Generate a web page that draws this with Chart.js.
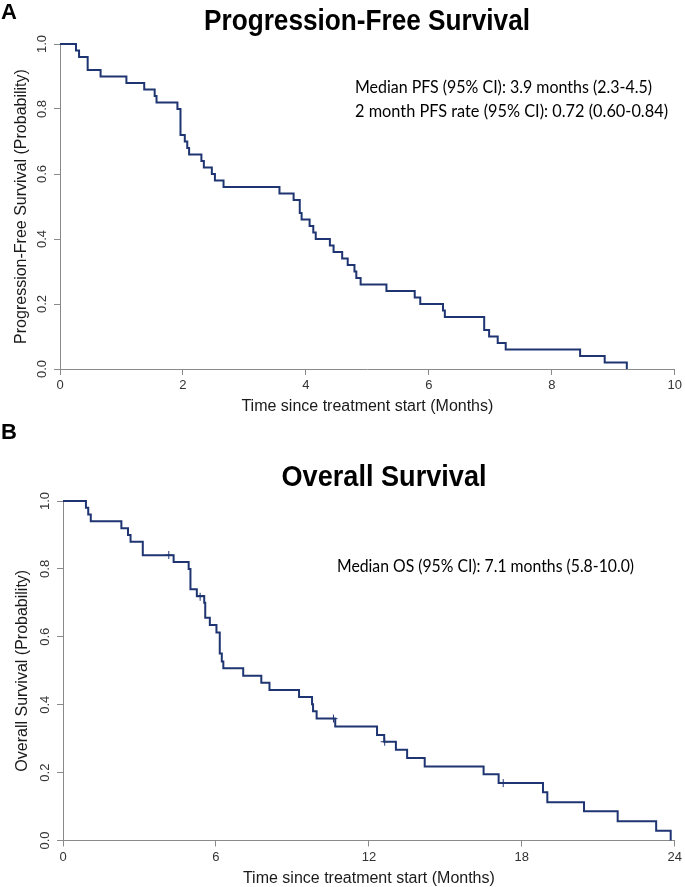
<!DOCTYPE html>
<html lang="en">
<head>
<meta charset="UTF-8">
<title>Progression-Free and Overall Survival</title>
<script src="https://cdn.jsdelivr.net/npm/chart.js"></script>
<style>
  html, body { margin: 0; padding: 0; background: #fff; }
  canvas { position: absolute; left: 0; }
  #pfsChart { top: 0; }
  #osChart { top: 415px; }
</style>
</head>
<body>
<canvas id="pfsChart" width="685" height="430"></canvas>
<canvas id="osChart" width="685" height="472"></canvas>
<script>
// Panel A - Kaplan-Meier steps (months, probability)
const pfsTime = [0, 0.26, 0.31, 0.45, 0.66, 1.08, 1.37, 1.54, 1.57, 1.91, 1.96, 2.03, 2.07, 2.10, 2.30,
                 2.34, 2.47, 2.52, 2.66, 3.57, 3.80, 3.90, 3.93, 4.06, 4.12, 4.16, 4.39, 4.45, 4.59, 4.68,
                 4.79, 4.82, 4.89, 5.31, 5.77, 5.86, 6.23, 6.26, 6.90, 6.98, 7.12, 7.25, 8.46, 8.86, 9.22];
const pfsSurv = [1.0, 0.98, 0.96, 0.92, 0.90, 0.88, 0.86, 0.84, 0.82, 0.80, 0.72, 0.70, 0.68, 0.66, 0.64,
                 0.62, 0.60, 0.58, 0.56, 0.54, 0.52, 0.48, 0.46, 0.44, 0.42, 0.40, 0.38, 0.36, 0.34, 0.32,
                 0.30, 0.28, 0.26, 0.24, 0.22, 0.20, 0.18, 0.16, 0.12, 0.10, 0.08, 0.06, 0.04, 0.02, 0.0];

// Panel B
const osTime = [0, 0.90, 0.99, 1.09, 2.29, 2.55, 2.65, 3.13, 4.34, 4.93, 5.00, 5.25, 5.54, 5.58, 5.76,
                6.02, 6.15, 6.23, 6.29, 7.07, 7.78, 8.10, 9.26, 9.77, 9.81, 9.95, 10.68, 12.32, 12.60, 13.06,
                13.50, 14.19, 16.50, 17.09, 18.83, 19.00, 20.44, 21.76, 23.27, 23.84];
const osSurv = [1.0, 0.98, 0.96, 0.94, 0.92, 0.90, 0.88, 0.84, 0.82, 0.80, 0.74, 0.72, 0.70, 0.656, 0.635,
                0.613, 0.551, 0.527, 0.507, 0.485, 0.465, 0.443, 0.423, 0.401, 0.381, 0.359, 0.336, 0.311, 0.291, 0.267,
                0.243, 0.218, 0.195, 0.169, 0.142, 0.113, 0.086, 0.057, 0.029, 0.0];
const osCensorTime = [4.15, 5.38, 10.61, 12.62, 17.27];
const osCensorSurv = [0.841, 0.718, 0.359, 0.291, 0.169];

const pfsXTicks = [0, 2, 4, 6, 8, 10];
const osXTicks = [0, 6, 12, 18, 24];
const yTicks = [0, 0.2, 0.4, 0.6, 0.8, 1.0];

const pfsNotes = ['Median PFS (95% CI): 3.9 months (2.3-4.5)', '2 month PFS rate (95% CI): 0.72 (0.60-0.84)'];
const osNotes = ['Median OS (95% CI): 7.1 months (5.8-10.0)'];

const curveColor = '#1f3572';
const axisColor = '#8a8a8a';
const sans = '"Liberation Sans", Arial, sans-serif';

// draw text squeezed to a given width (the R output is a bit condensed)
function fitText(ctx, text, x, y, width) {
    const k = width / ctx.measureText(text).width;
    ctx.save();
    ctx.translate(x, y);
    ctx.scale(k, 1);
    ctx.fillText(text, 0, 0);
    ctx.restore();
}

// titles, panel letters and the text box
const headerText = {
    id: 'headerText',
    afterDraw(chart, args, opts) {
        const ctx = chart.ctx;
        ctx.save();
        ctx.fillStyle = '#000';
        ctx.textBaseline = 'middle';
        ctx.textAlign = 'left';
        ctx.font = 'bold 22px ' + sans;
        ctx.fillText(opts.letter, 1, opts.letterY);
        ctx.textAlign = 'center';
        ctx.font = 'bold 29px ' + sans;
        fitText(ctx, opts.title, opts.titleX, opts.titleY, opts.titleWidth);
        ctx.textAlign = 'left';
        ctx.font = '17px Lato, "Open Sans", sans-serif';
        opts.notes.forEach((line, i) => {
            fitText(ctx, line, opts.noteX, opts.noteY[i], opts.noteWidths[i]);
        });
        ctx.restore();
    }
};

function kmChart(id, time, surv, censT, censS, xTicks, cfg) {
    const datasets = [{
        data: time.map((t, i) => ({ x: t, y: surv[i] })),
        stepped: 'before',
        borderColor: curveColor,
        borderWidth: 2,
        pointRadius: 0,
        fill: false,
        clip: false
    }];
    if (censT.length) {
        datasets.push({
            type: 'scatter',
            data: censT.map((t, i) => ({ x: t, y: censS[i] })),
            pointStyle: 'cross',
            pointRadius: 4,
            borderColor: curveColor,
            borderWidth: 1,
            clip: false
        });
    }
    return new Chart(document.getElementById(id), {
        type: 'line',
        data: { datasets: datasets },
        plugins: [headerText],
        options: {
            responsive: false,
            animation: false,
            layout: { padding: { top: cfg.top, right: cfg.right, left: 0, bottom: 0 } },
            plugins: {
                legend: { display: false },
                tooltip: { enabled: false },
                headerText: cfg.header
            },
            scales: {
                x: {
                    type: 'linear',
                    min: xTicks[0],
                    max: xTicks[xTicks.length - 1],
                    afterBuildTicks: s => { s.ticks = xTicks.map(v => ({ value: v })); },
                    afterFit: s => { s.height = cfg.xHeight; },
                    grid: { drawOnChartArea: false, drawTicks: true, tickLength: 6, color: axisColor },
                    border: { display: true, color: axisColor, width: 1 },
                    ticks: { color: '#333', padding: 3, font: { family: sans, size: 13 }, callback: v => String(v) },
                    title: {
                        display: true,
                        text: 'Time since treatment start (Months)',
                        color: '#1a1a1a',
                        font: { family: sans, size: 16, lineHeight: 1 },
                        padding: { top: 0, bottom: cfg.xTitlePad }
                    }
                },
                y: {
                    type: 'linear',
                    min: 0,
                    max: 1,
                    afterBuildTicks: s => { s.ticks = yTicks.map(v => ({ value: v })); },
                    afterFit: s => { s.width = cfg.yWidth; },
                    grid: { drawOnChartArea: false, drawTicks: true, tickLength: 6, color: axisColor },
                    border: { display: true, color: axisColor, width: 1 },
                    ticks: {
                        color: '#333', padding: 3, minRotation: 90, maxRotation: 90, crossAlign: 'center',
                        font: { family: sans, size: 13 }, callback: v => v.toFixed(1)
                    },
                    title: {
                        display: true,
                        text: cfg.yTitle,
                        color: '#1a1a1a',
                        font: { family: sans, size: 16, lineHeight: 1 },
                        padding: { top: cfg.yTitlePad, bottom: 0 }
                    }
                }
            }
        }
    });
}

kmChart('pfsChart', pfsTime, pfsSurv, [], [], pfsXTicks, {
    top: 44, right: 9, xHeight: 61, yWidth: 60, xTitlePad: 15.5, yTitlePad: 14,
    yTitle: 'Progression-Free Survival (Probability)',
    header: {
        letter: 'A', letterY: 13, title: 'Progression-Free Survival', titleX: 367, titleY: 22, titleWidth: 326,
        notes: pfsNotes, noteWidths: [297, 313], noteX: 355, noteY: [88, 112]
    }
});

kmChart('osChart', osTime, osSurv, osCensorTime, osCensorSurv, osXTicks, {
    top: 86, right: 7, xHeight: 46.5, yWidth: 63, xTitlePad: 0, yTitlePad: 15,
    yTitle: 'Overall Survival (Probability)',
    header: {
        letter: 'B', letterY: 18, title: 'Overall Survival', titleX: 384, titleY: 63, titleWidth: 205,
        notes: osNotes, noteWidths: [297], noteX: 337, noteY: [152]
    }
});
</script>
</body>
</html>
